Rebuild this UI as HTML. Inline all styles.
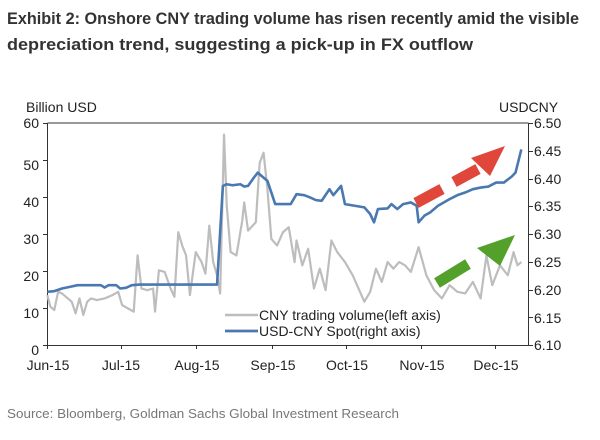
<!DOCTYPE html>
<html><head><meta charset="utf-8"><style>
body{margin:0;background:#fff;}
svg{display:block;font-family:"Liberation Sans",Arial,sans-serif;}
</style></head><body>
<svg width="600" height="440" viewBox="0 0 600 440">
<text x="7" y="24" font-size="17" font-weight="bold" fill="#333" textLength="572" lengthAdjust="spacingAndGlyphs">Exhibit 2: Onshore CNY trading volume has risen recently amid the visible</text>
<text x="7" y="50" font-size="17" font-weight="bold" fill="#333" textLength="466" lengthAdjust="spacingAndGlyphs">depreciation trend, suggesting a pick-up in FX outflow</text>
<text x="26" y="112" font-size="14" fill="#222">Billion USD</text>
<text x="499" y="112" font-size="14" fill="#222">USDCNY</text>
<g font-size="14" fill="#222" text-anchor="end">
<text x="39" y="128">60</text><text x="39" y="170">50</text><text x="39" y="207">40</text><text x="39" y="244">30</text><text x="39" y="281">20</text><text x="39" y="318">10</text><text x="39" y="355">0</text>
</g>
<g font-size="14" fill="#222" text-anchor="start">
<text x="534" y="128">6.50</text><text x="534" y="156">6.45</text><text x="534" y="184">6.40</text><text x="534" y="211">6.35</text><text x="534" y="239">6.30</text><text x="534" y="267">6.25</text><text x="534" y="295">6.20</text><text x="534" y="323">6.15</text><text x="534" y="350">6.10</text>
</g>
<g font-size="14" fill="#222" text-anchor="middle">
<text x="48" y="370">Jun-15</text><text x="121" y="370">Jul-15</text><text x="197" y="370">Aug-15</text><text x="273" y="370">Sep-15</text><text x="347" y="370">Oct-15</text><text x="422" y="370">Nov-15</text><text x="496" y="370">Dec-15</text>
</g>
<g stroke="#333" stroke-width="1" fill="none">
<line x1="47.5" y1="123" x2="528.5" y2="123"/>
<line x1="47.5" y1="123" x2="47.5" y2="345"/>
<line x1="528.5" y1="123" x2="528.5" y2="345"/>
<line x1="47" y1="345.5" x2="529" y2="345.5"/>
<path d="M43 123.5h4M43 160.5h4M43 197.5h4M43 234.5h4M43 271.5h4M43 308.5h4M43 345.5h4"/>
<path d="M529 123.5h4M529 151.5h4M529 179.5h4M529 206.5h4M529 234.5h4M529 262.5h4M529 290.5h4M529 317.5h4M529 345.5h4"/>
<path d="M47.5 345v4M121.5 345v4M196.5 345v4M272.5 345v4M346.5 345v4M421.5 345v4M495.5 345v4"/>
</g>
<g transform="translate(0,89.9) scale(0.3876,0.331)" fill="none" stroke-linejoin="round">
<polyline vector-effect="non-scaling-stroke" stroke="#bdbdbd" stroke-width="2.2" points="122,620 130,655 140,665 150,610 160,615 175,630 185,640 195,675 205,630 215,680 225,640 235,630 250,635 270,630 290,620 305,610 315,650 330,660 345,670 355,500 365,600 380,605 395,600 400,670 410,545 425,550 440,600 450,625 460,430 470,470 480,500 490,620 505,490 520,520 530,555 540,410 550,520 560,560 568,615 578,135 585,350 595,490 610,500 625,395 630,340 640,425 660,400 670,220 680,190 690,300 700,450 715,470 730,430 745,415 760,520 765,455 780,530 795,480 810,600 825,540 840,605 855,455 870,490 890,520 910,560 940,640 955,610 970,540 985,580 1000,520 1015,540 1030,520 1045,530 1060,550 1080,475 1100,560 1120,605 1140,630 1160,590 1180,610 1200,615 1220,580 1240,630 1255,500 1270,590 1290,530 1310,560 1325,490 1335,530 1345,520"/>
<polyline vector-effect="non-scaling-stroke" stroke="#4a78b0" stroke-width="2.6" points="122,610 140,608 160,600 180,595 200,590 260,590 270,597 280,590 300,590 310,600 325,598 340,590 360,588 560,588 575,290 585,285 600,288 620,285 630,292 640,290 655,265 665,250 675,260 690,275 710,345 750,345 765,315 785,318 800,325 815,333 830,335 850,300 860,318 880,290 890,345 940,355 955,375 965,400 975,360 1000,358 1010,345 1025,360 1040,345 1060,340 1075,350 1080,400 1095,380 1110,370 1130,350 1160,330 1180,318 1200,310 1220,300 1240,295 1260,292 1280,280 1300,280 1320,262 1330,250 1345,180"/>
</g>
<!-- arrows -->
<g>
<line x1="416" y1="203" x2="442" y2="189" stroke="#e0473a" stroke-width="11"/>
<line x1="454" y1="182" x2="478" y2="169" stroke="#e0473a" stroke-width="11"/>
<polygon points="471,158 505,146 490,176" fill="#e0473a"/>
<line x1="437" y1="283" x2="468" y2="264" stroke="#53a02a" stroke-width="11"/>
<polygon points="477,248 515,235 500,266" fill="#53a02a"/>
</g>
<!-- legend -->
<line x1="225" y1="353" x2="258" y2="353" stroke="#bdbdbd" stroke-width="2.5" transform="translate(0,-38)"/>
<line x1="225" y1="331" x2="258" y2="331" stroke="#4a78b0" stroke-width="2.8"/>
<text x="259" y="320" font-size="14" fill="#222">CNY trading volume(left axis)</text>
<text x="259" y="336" font-size="14" fill="#222">USD-CNY Spot(right axis)</text>
<text x="7" y="418" font-size="13" fill="#777" textLength="392" lengthAdjust="spacingAndGlyphs">Source: Bloomberg, Goldman Sachs Global Investment Research</text>
</svg>
</body></html>
